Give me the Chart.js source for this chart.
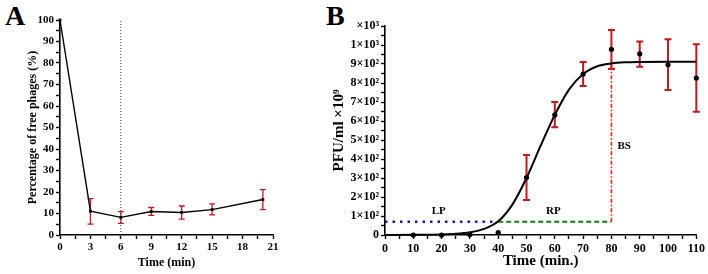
<!DOCTYPE html>
<html>
<head>
<meta charset="utf-8">
<script src="https://cdn.jsdelivr.net/npm/chart.js@4"></script>
<style>
  body { margin: 0; background: #fff; width: 708px; height: 274px; position: relative; overflow: hidden; }
  .panel { position: absolute; top: 0; height: 274px; }
  .tag { position: absolute; top: 0; font: bold 28px "Liberation Serif", serif; color: #000; }
</style>
</head>
<body>
<div class="tag" style="left:5px;">A</div>
<div class="tag" style="left:326px;">B</div>
<div class="panel" style="left:0; width:300px;"><canvas id="chartA"></canvas></div>
<div class="panel" style="left:325px; width:383px;"><canvas id="chartB"></canvas></div>
<script>
// panel A: adsorption
const timeA = [0, 3, 6, 9, 12, 15, 20];
const freeA = [100, 11.1, 8.2, 10.9, 10.5, 11.8, 16.5];
const lowA = [100, 5.1, 5.4, 9.1, 7.4, 9.4, 11.8];
const highA = [100, 16.9, 10.9, 12.8, 13.5, 14.5, 21.1];
const markA = 6;

// panel B: one-step growth
const timeB = [10, 20, 30, 40, 50, 60, 70, 80, 90, 100, 110];
const pfuB = [0, 0, 2, 12, 302, 632, 847, 977, 954, 896, 826];
const lowB = [0, 0, 2, 12, 184, 567, 784, 874, 886, 763, 649];
const highB = [0, 0, 2, 12, 421, 700, 911, 1079, 1019, 1030, 1004];
const fitX = [0, 10, 20, 25, 30, 35, 40, 45, 50, 55, 60, 65, 70, 75, 80, 85, 90, 100, 110];
const fitY = [0, 1, 3, 6, 14, 32, 72, 160, 300, 470, 632, 765, 847, 888, 903, 909, 911, 912, 912];
const latentEnd = 40, burstAt = 80, phaseLevel = 70, burstTop = 900;
const phaseLabels = [['LP', 19, 125], ['RP', 59.5, 125], ['BS', 84.5, 470]];
const yLabelsB = ['0', '1×10²', '2×10²', '3×10²', '4×10²', '5×10²', '6×10²', '7×10²', '8×10²', '9×10²', '1×10³', '×10³'];

const serif = '"Liberation Serif", "Times New Roman", serif';
const red = '#c0191f';

const errorBars = {
    id: 'errorBars',
    beforeDatasetsDraw(chart) {
        const o = chart.options.plugins.errorBars;
        const { ctx, scales: { x, y } } = chart;
        ctx.save();
        ctx.strokeStyle = o.color;
        ctx.lineWidth = o.width;
        o.xs.forEach((t, i) => {
            if (o.highs[i] <= o.lows[i]) return;
            const px = x.getPixelForValue(t);
            const top = y.getPixelForValue(o.highs[i]);
            const bot = y.getPixelForValue(o.lows[i]);
            ctx.beginPath();
            ctx.moveTo(px, top); ctx.lineTo(px, bot);
            ctx.moveTo(px - o.cap, top); ctx.lineTo(px + o.cap, top);
            ctx.moveTo(px - o.cap, bot); ctx.lineTo(px + o.cap, bot);
            ctx.stroke();
        });
        ctx.restore();
    }
};

const phaseText = {
    id: 'phaseText',
    afterDatasetsDraw(chart) {
        const { ctx, scales: { x, y } } = chart;
        ctx.save();
        ctx.font = 'bold 11px ' + serif;
        ctx.fillStyle = '#000';
        ctx.textAlign = 'center';
        ctx.textBaseline = 'middle';
        phaseLabels.forEach(([t, vx, vy]) => ctx.fillText(t, x.getPixelForValue(vx), y.getPixelForValue(vy)));
        ctx.restore();
    }
};

function axis(extra) {
    return Object.assign({
        type: 'linear',
        border: { color: '#000', width: 1.6 },
        grid: { display: true, drawOnChartArea: false, drawTicks: true, tickLength: 4, tickColor: '#000', tickWidth: 1.4 },
    }, extra);
}

new Chart(document.getElementById('chartA'), {
    type: 'line',
    data: {
        datasets: [
            { data: timeA.map((t, i) => ({ x: t, y: freeA[i] })), borderColor: '#000', borderWidth: 1.4,
              pointStyle: 'rect', pointRadius: 2, backgroundColor: '#000', pointBorderWidth: 0, clip: false },
            { data: [{ x: markA, y: 0 }, { x: markA, y: 100 }], borderColor: '#333', borderWidth: 1,
              borderDash: [1, 2], pointRadius: 0 }
        ]
    },
    options: {
        responsive: true, maintainAspectRatio: false, animation: false,
        layout: { padding: { left: 22, top: 20, right: 27, bottom: 0 } },
        plugins: {
            legend: { display: false }, tooltip: { enabled: false },
            errorBars: { xs: timeA, lows: lowA, highs: highA, color: red, width: 1.3, cap: 3 }
        },
        scales: {
            x: axis({
                min: 0, max: 21,
                ticks: { stepSize: 1.5, autoSkip: false, maxRotation: 0, color: '#000', padding: 2,
                         font: { family: serif, size: 11, weight: 'bold' },
                         callback: v => Math.abs(v % 3) < 1e-6 ? v : '' },
                title: { display: true, text: 'Time (min)', color: '#000', padding: { top: 8 },
                         font: { family: serif, size: 12, weight: 'bold' } },
                afterFit: s => { s.height = 39; }
            }),
            y: axis({
                min: 0, max: 100,
                ticks: { stepSize: 5, autoSkip: false, color: '#000', padding: 2,
                         font: { family: serif, size: 11, weight: 'bold' },
                         callback: v => v % 10 === 0 ? v : '' },
                title: { display: true, text: 'Percentage of free phages (%)', color: '#000', padding: 4,
                         font: { family: serif, size: 12, weight: 'bold' } },
                afterFit: s => { s.width = 38; }
            })
        }
    },
    plugins: [errorBars]
});

new Chart(document.getElementById('chartB'), {
    type: 'line',
    data: {
        datasets: [
            { data: fitX.map((t, i) => ({ x: t, y: fitY[i] })), borderColor: '#000', borderWidth: 2,
              pointRadius: 0, cubicInterpolationMode: 'monotone', clip: false },
            { data: [{ x: 0, y: phaseLevel }, { x: latentEnd, y: phaseLevel }], borderColor: '#1a1aa8',
              borderWidth: 2.5, borderDash: [2.5, 5], pointRadius: 0 },
            { data: [{ x: latentEnd, y: phaseLevel }, { x: burstAt, y: phaseLevel }], borderColor: '#1f7a1f',
              borderWidth: 2, borderDash: [5, 3], pointRadius: 0 },
            { data: [{ x: burstAt, y: phaseLevel }, { x: burstAt, y: burstTop }], borderColor: '#ff1a1a',
              borderWidth: 1.6, borderDash: [4, 2, 1.5, 2], pointRadius: 0 },
            { data: timeB.map((t, i) => ({ x: t, y: pfuB[i] })), showLine: false, pointRadius: 2.6,
              backgroundColor: '#000', pointBorderWidth: 0, clip: false }
        ]
    },
    options: {
        responsive: true, maintainAspectRatio: false, animation: false,
        layout: { padding: { left: 3, top: 26, right: 10, bottom: 0 } },
        plugins: {
            legend: { display: false }, tooltip: { enabled: false },
            errorBars: { xs: timeB, lows: lowB, highs: highB, color: red, width: 2, cap: 3.5 }
        },
        scales: {
            x: axis({
                min: 0, max: 110,
                ticks: { stepSize: 5, autoSkip: false, maxRotation: 0, color: '#000', padding: 3,
                         font: { family: serif, size: 12, weight: 'bold' },
                         callback: v => v % 10 === 0 ? v : '' },
                title: { display: true, text: 'Time (min.)', color: '#000', padding: { top: 0 },
                         font: { family: serif, size: 15, weight: 'bold' } },
                afterFit: s => { s.height = 39; }
            }),
            y: axis({
                min: 0, max: 1100,
                ticks: { stepSize: 50, autoSkip: false, color: '#000', padding: 2,
                         font: { family: serif, size: 12, weight: 'bold' },
                         callback: v => v % 100 === 0 ? yLabelsB[v / 100] : '' },
                title: { display: true, text: 'PFU/ml ×10⁹', color: '#000', padding: 2,
                         font: { family: serif, size: 15, weight: 'bold' } },
                afterFit: s => { s.width = 57; }
            })
        }
    },
    plugins: [errorBars, phaseText]
});
</script>
</body>
</html>
